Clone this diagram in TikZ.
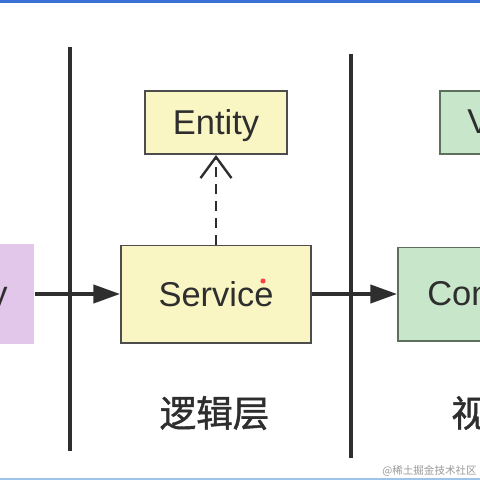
\documentclass[tikz,border=0pt]{standalone}
\usepackage{fontspec}
\usepackage{xcolor}
\setmainfont{Liberation Sans}
\newfontfamily\cjk{Noto Sans CJK SC}
\newfontfamily\cjkheavy{Noto Sans CJK SC}[FakeBold=1.2]
\usetikzlibrary{arrows.meta}

\definecolor{entityyellow}{HTML}{FAF6C4}
\definecolor{viewgreen}{HTML}{C8E6C9}
\definecolor{repopurple}{HTML}{E3C7EA}
\definecolor{boxline}{HTML}{4D4D4D}
\definecolor{greenline}{HTML}{5C705C}
\definecolor{inkgray}{HTML}{2E2E2E}
\definecolor{topblue}{HTML}{3A6FD6}
\definecolor{bottomblue}{HTML}{9EC4EC}

\begin{document}
\begin{tikzpicture}[x=0.025cm, y=-0.025cm,
        layerbox/.style={draw=boxline, line width=1.4pt, inner sep=0pt, text depth=0pt, text=inkgray, font=\fontsize{24.5}{28}\selectfont},
        boxtext/.style={inner sep=0pt, text=inkgray, font=\fontsize{24.5}{28}\selectfont},
        layerlabel/.style={inner sep=0pt, text=inkgray, font=\cjkheavy\fontsize{26}{30}\selectfont},
        divider/.style={draw=inkgray, line width=2.2pt},
        flow/.style={draw=inkgray, line width=2.4pt, -{Triangle[length=19pt, width=13pt]}},
        dep/.style={draw=inkgray, line width=1.7pt, dash pattern=on 7pt off 5pt, -{Straight Barb[length=15pt, width=22pt]}}]
                \path[use as bounding box, clip] (0,0) rectangle (480,480);
                \fill[white] (0,0) rectangle (480,480);
                \fill[topblue] (0,0) rectangle (480,2.5);
                \fill[bottomblue] (0,477.5) rectangle (480,480);
                \node[layerbox, draw=none, fill=repopurple, minimum width=3.35cm, minimum height=2.475cm] (repo) at (-33,294) {};
                \node[boxtext, anchor=base east] (repoText) at (8,305) {y};
                \node[layerbox, fill=entityyellow, minimum width=3.55cm, minimum height=1.575cm] (entity) at (216,122.5) {Entity};
                \node[layerbox, fill=entityyellow, minimum width=4.75cm, minimum height=2.425cm] (service) at (216,294) {Service};
                \node[layerbox, draw=greenline, fill=viewgreen, minimum width=3.55cm, minimum height=1.575cm] (vo) at (511,122.5) {};
                \node[boxtext, anchor=base west] (voText) at (467,133) {V};
                \node[layerbox, draw=greenline, fill=viewgreen, minimum width=5.05cm, minimum height=2.325cm] (ctrl) at (499,294) {};
                \node[boxtext, anchor=base west] (ctrlText) at (427,305) {Con};
                \draw[divider] (70,47) -- (70,451);
                \draw[divider] (351,54) -- (351,458);
                \draw[flow] (repo.east) -- (service.west);
                \draw[flow] (service.east) -- (ctrl.west);
                \draw[dep] (service.north) -- (entity.south);
                \fill[red!75] (263,281) circle (1.8pt);
                \node[layerlabel] (logicLabel) at (214.5,413) {逻辑层};
                \node[layerlabel, anchor=west] (viewLabel) at (451,413) {视};
                \node[anchor=east, inner sep=0pt, text=black!40, font=\cjk\fontsize{7.5}{9}\selectfont] (mark) at (477,470.5) {@稀土掘金技术社区};
            \end{tikzpicture}
\end{document}
